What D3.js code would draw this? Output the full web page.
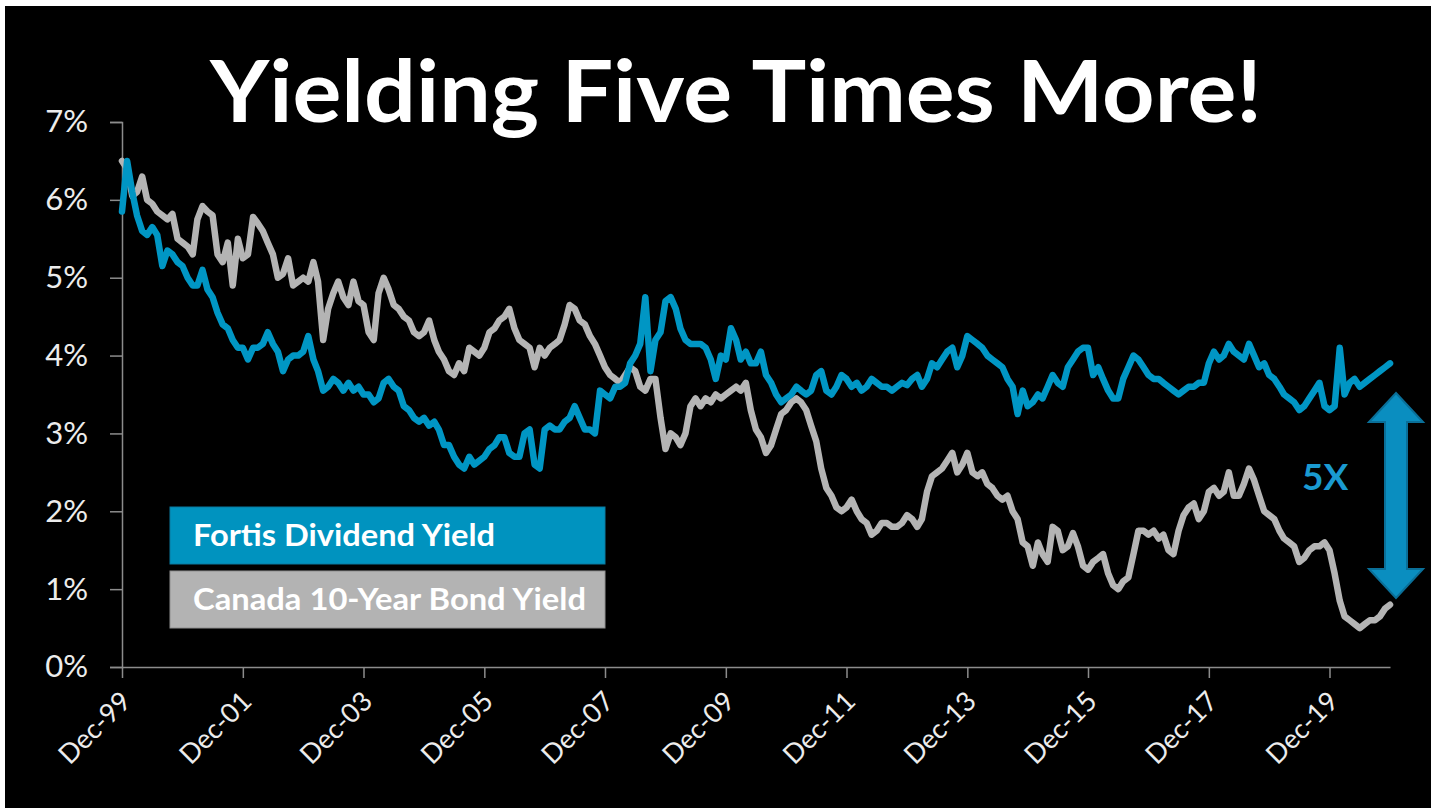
<!DOCTYPE html>
<html>
<head>
<meta charset="utf-8">
<script src="https://cdnjs.cloudflare.com/ajax/libs/d3/7.8.5/d3.min.js"></script>
<style>
  html, body { margin: 0; padding: 0; background: #ffffff; }
  svg { display: block; }
</style>
</head>
<body>
<svg id="chart" width="1438" height="808"></svg>
<script>
// ---- Data (monthly, starting Dec 1999) ----
const startMonth = "1999-12";
const fortisYield = [
  5.85, 6.5, 6.1, 5.8, 5.6, 5.55, 5.65, 5.55, 5.15, 5.35, 5.3, 5.2,
  5.15, 5.0, 4.9, 4.9, 5.1, 4.85, 4.75, 4.55, 4.4, 4.35, 4.2, 4.1,
  4.1, 3.95, 4.1, 4.1, 4.15, 4.3, 4.15, 4.05, 3.8, 3.95, 4.0, 4.0,
  4.05, 4.25, 3.95, 3.8, 3.55, 3.6, 3.7, 3.65, 3.55, 3.65, 3.55, 3.6,
  3.5, 3.5, 3.4, 3.45, 3.65, 3.7, 3.6, 3.55, 3.35, 3.3, 3.2, 3.15,
  3.2, 3.1, 3.15, 3.05, 2.85, 2.85, 2.7, 2.6, 2.55, 2.7, 2.6, 2.65,
  2.7, 2.8, 2.85, 2.95, 2.95, 2.75, 2.7, 2.7, 3.0, 3.05, 2.6, 2.55,
  3.05, 3.1, 3.05, 3.05, 3.15, 3.2, 3.35, 3.2, 3.05, 3.05, 3.0, 3.55,
  3.5, 3.45, 3.6, 3.6, 3.65, 3.9, 4.0, 4.15, 4.75, 3.8, 4.2, 4.3,
  4.7, 4.75, 4.6, 4.35, 4.2, 4.15, 4.15, 4.15, 4.1, 3.95, 3.7, 4.0,
  3.95, 4.35, 4.2, 3.95, 4.05, 3.9, 3.9, 4.05, 3.75, 3.65, 3.5, 3.4,
  3.45, 3.5, 3.6, 3.55, 3.5, 3.55, 3.75, 3.8, 3.55, 3.5, 3.6, 3.75,
  3.7, 3.6, 3.65, 3.55, 3.6, 3.7, 3.65, 3.6, 3.6, 3.55, 3.6, 3.65,
  3.62, 3.7, 3.75, 3.6, 3.7, 3.9, 3.85, 3.95, 4.05, 4.1, 3.85, 4.0,
  4.25, 4.2, 4.15, 4.1, 4.0, 3.95, 3.9, 3.85, 3.7, 3.6, 3.25, 3.55,
  3.35, 3.4, 3.5, 3.45, 3.6, 3.75, 3.65, 3.6, 3.85, 3.95, 4.05, 4.1,
  4.1, 3.75, 3.85, 3.7, 3.55, 3.45, 3.45, 3.7, 3.85, 4.0, 3.95, 3.85,
  3.75, 3.7, 3.7, 3.65, 3.6, 3.55, 3.5, 3.55, 3.6, 3.6, 3.65, 3.65,
  3.9, 4.05, 3.95, 4.0, 4.15, 4.05, 4.0, 3.95, 4.15, 4.0, 3.85, 3.9,
  3.75, 3.7, 3.6, 3.5, 3.45, 3.4, 3.3, 3.35, 3.45, 3.55, 3.65, 3.35,
  3.3, 3.35, 4.1, 3.5, 3.65, 3.7, 3.6, 3.65, 3.7, 3.75, 3.8, 3.85, 3.9
];
const bondYield = [
  6.5, 6.4, 6.05, 6.1, 6.3, 6.0, 5.95, 5.85, 5.8, 5.75, 5.82, 5.5,
  5.45, 5.4, 5.3, 5.75, 5.92, 5.85, 5.8, 5.3, 5.2, 5.45, 4.9, 5.5,
  5.25, 5.3, 5.78, 5.7, 5.6, 5.45, 5.3, 5.0, 5.05, 5.25, 4.9, 4.95,
  5.0, 4.95, 5.2, 4.95, 4.2, 4.6, 4.8, 4.95, 4.75, 4.65, 4.95, 4.7,
  4.65, 4.3, 4.2, 4.8, 5.0, 4.85, 4.65, 4.6, 4.5, 4.45, 4.3, 4.25,
  4.3, 4.45, 4.2, 4.05, 3.95, 3.8, 3.75, 3.9, 3.8, 4.1, 4.05, 4.0,
  4.1, 4.3, 4.35, 4.45, 4.5, 4.6, 4.35, 4.2, 4.15, 4.1, 3.85, 4.1,
  4.0, 4.1, 4.15, 4.2, 4.4, 4.65, 4.6, 4.45, 4.4, 4.25, 4.15, 4.0,
  3.85, 3.75, 3.7, 3.65, 3.75, 3.85, 3.8, 3.6, 3.55, 3.7, 3.7, 3.2,
  2.8, 3.0, 2.95, 2.85, 3.0, 3.35, 3.45, 3.35, 3.45, 3.4, 3.5, 3.45,
  3.5, 3.55, 3.6, 3.55, 3.65, 3.3, 3.05, 2.95, 2.75, 2.85, 3.05, 3.25,
  3.3, 3.4, 3.45, 3.4, 3.3, 3.1, 2.9, 2.55, 2.3, 2.2, 2.05, 2.0,
  2.05, 2.15, 2.0, 1.9, 1.85, 1.7, 1.75, 1.85, 1.85, 1.8, 1.8, 1.85,
  1.95, 1.9, 1.8, 1.9, 2.25, 2.45, 2.5, 2.55, 2.65, 2.75, 2.5, 2.6,
  2.75, 2.5, 2.45, 2.5, 2.35, 2.3, 2.2, 2.15, 2.2, 2.0, 1.9, 1.6,
  1.55, 1.3, 1.6, 1.45, 1.35, 1.8, 1.75, 1.5, 1.55, 1.72, 1.55, 1.3,
  1.25, 1.35, 1.4, 1.45, 1.2, 1.05, 1.0, 1.1, 1.15, 1.45, 1.75, 1.75,
  1.7, 1.75, 1.65, 1.7, 1.5, 1.45, 1.75, 1.95, 2.05, 2.1, 1.9, 2.0,
  2.25, 2.3, 2.2, 2.25, 2.5, 2.2, 2.2, 2.35, 2.55, 2.4, 2.2, 2.0,
  1.95, 1.9, 1.75, 1.65, 1.6, 1.55, 1.35, 1.4, 1.5, 1.55, 1.55, 1.6,
  1.5, 1.2, 0.85, 0.65, 0.6, 0.55, 0.5, 0.55, 0.6, 0.6, 0.65, 0.75, 0.8
];
const xTickLabels = ["Dec-99","Dec-01","Dec-03","Dec-05","Dec-07","Dec-09","Dec-11","Dec-13","Dec-15","Dec-17","Dec-19"];
const yTicks = [0, 1, 2, 3, 4, 5, 6, 7];
const seriesNames = ["Fortis Dividend Yield", "Canada 10-Year Bond Yield"];
const titleText = "Yielding Five Times More!";
const multipleLabel = "5X";

// ---- Setup ----
const W = 1438, H = 808;
const FONT = "Lato, 'Open Sans', 'DejaVu Sans', sans-serif";
const BLUE = "#0096c4", GRAY = "#b4b4b4";
const svg = d3.select("#chart");

svg.append("rect").attr("x", 5).attr("y", 6).attr("width", 1426).attr("height", H - 6).attr("fill", "#000");

const parseMonth = d3.timeParse("%Y-%m");
const parseTick = d3.timeParse("%b-%y");
const start = parseMonth(startMonth);
const dates = fortisYield.map((_, i) => d3.timeMonth.offset(start, i));

const x = d3.scaleTime().domain([start, dates[dates.length - 1]]).range([122, 1390]);
const y = d3.scaleLinear().domain([0, 7]).range([667, 122]);

// Title
svg.append("text")
  .attr("x", 210).attr("y", 122)
  .attr("textLength", 1052).attr("lengthAdjust", "spacingAndGlyphs")
  .attr("font-family", FONT).attr("font-weight", 700).attr("font-size", 87)
  .attr("fill", "#ffffff")
  .text(titleText);

// Y axis
const yAxis = d3.axisLeft(y).tickValues(yTicks).tickFormat(d => d + "%").tickSize(12).tickPadding(22);
const gy = svg.append("g").attr("transform", "translate(122,0)").call(yAxis);
gy.select(".domain").attr("stroke", "#8c8c8c").attr("stroke-width", 1.5);
gy.selectAll(".tick line").attr("stroke", "#8c8c8c").attr("stroke-width", 1.5);
gy.selectAll(".tick text").attr("fill", "#ececec").attr("font-family", FONT).attr("font-size", 31);

// X axis
const xAxis = d3.axisBottom(x).tickValues(xTickLabels.map(parseTick)).tickFormat(d3.timeFormat("%b-%y")).tickSize(11).tickSizeOuter(0);
const gx = svg.append("g").attr("transform", "translate(0,667)").call(xAxis);
gx.select(".domain").attr("stroke", "#8c8c8c").attr("stroke-width", 1.5);
gx.selectAll(".tick line").attr("stroke", "#8c8c8c").attr("stroke-width", 1.5);
gx.selectAll(".tick text")
  .attr("fill", "#ececec").attr("font-family", FONT).attr("font-size", 27)
  .attr("text-anchor", "end")
  .attr("dy", null).attr("y", 0)
  .attr("transform", "translate(10,36) rotate(-45)");

// Lines
const line = d3.line().x((d, i) => x(dates[i])).y(d => y(d)).curve(d3.curveLinear);
svg.append("path").datum(bondYield).attr("d", line)
  .attr("fill", "none").attr("stroke", GRAY).attr("stroke-width", 6.5)
  .attr("stroke-linejoin", "round").attr("stroke-linecap", "round");
svg.append("path").datum(fortisYield).attr("d", line)
  .attr("fill", "none").attr("stroke", BLUE).attr("stroke-width", 6.5)
  .attr("stroke-linejoin", "round").attr("stroke-linecap", "round");

// Legend boxes
const legend = svg.append("g");
const legendColors = ["#0093bf", "#b3b3b3"];
const legendWidths = [302, 393];
seriesNames.forEach((name, i) => {
  const top = i === 0 ? 507 : 571;
  legend.append("rect").attr("x", 170).attr("y", top).attr("width", 435).attr("height", 57)
    .attr("fill", legendColors[i]).attr("stroke", i === 0 ? "#0a7aa0" : "#8f8f8f").attr("stroke-width", 1);
  legend.append("text").attr("x", 193).attr("y", top + 39)
    .attr("textLength", legendWidths[i]).attr("lengthAdjust", "spacingAndGlyphs")
    .attr("font-family", FONT).attr("font-weight", 700).attr("font-size", 30)
    .attr("fill", "#ffffff").text(name);
});

// 5X label
svg.append("text").attr("x", 1302).attr("y", 490)
  .attr("font-family", FONT).attr("font-weight", 700).attr("font-size", 37)
  .attr("fill", "#1a9ad0").text(multipleLabel);

// Double arrow
const ax = 1396, aTop = 393, aBot = 598, headH = 29, headW = 27, shaftW = 11;
const arrowPts = [
  [ax, aTop], [ax + headW, aTop + headH], [ax + shaftW, aTop + headH],
  [ax + shaftW, aBot - headH], [ax + headW, aBot - headH], [ax, aBot],
  [ax - headW, aBot - headH], [ax - shaftW, aBot - headH], [ax - shaftW, aTop + headH],
  [ax - headW, aTop + headH]
];
svg.append("polygon").attr("points", arrowPts.map(p => p.join(",")).join(" "))
  .attr("fill", "#0a8ec0").attr("stroke", "#0a6f98").attr("stroke-width", 2);
</script>
</body>
</html>
